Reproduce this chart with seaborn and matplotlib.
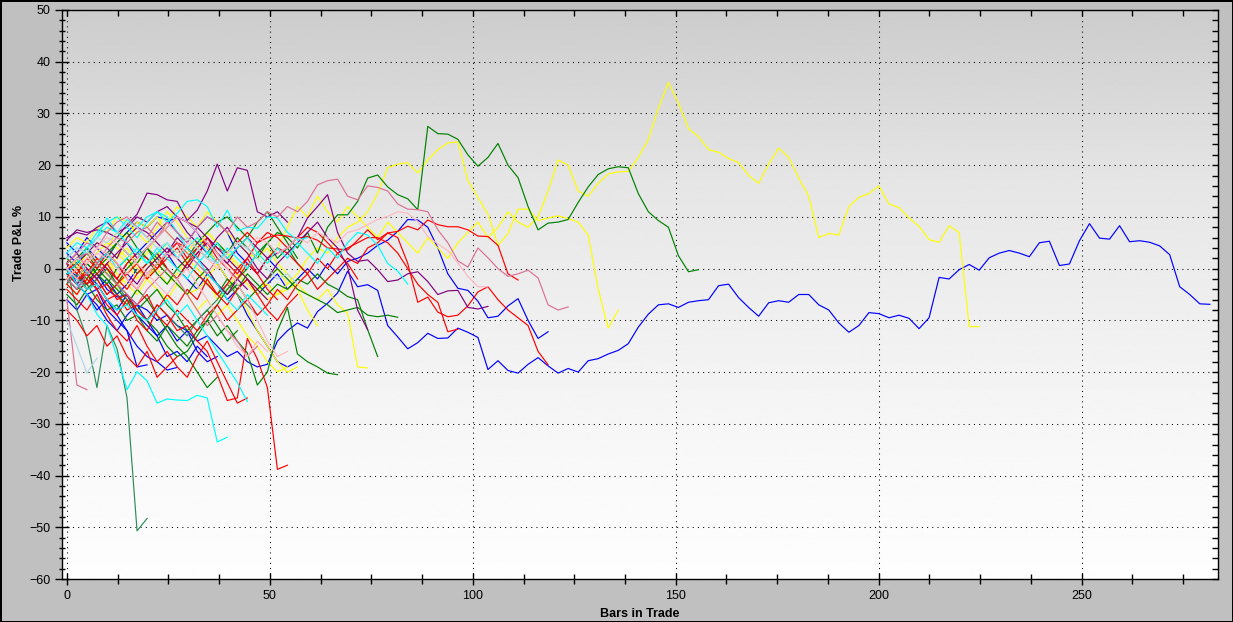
"""Trade P&L % by bars in trade - one line per trade."""
import matplotlib
matplotlib.use("Agg")
import matplotlib.pyplot as plt
from matplotlib.ticker import MultipleLocator
import numpy as np
import pandas as pd
import seaborn as sns

# each trade: P&L % sampled every STEP bars, starting at bar 0
STEP = 2.47

BLUE = [
    # long trade (~283 bars)
    [0, -1.5, -3, -1, -4, -5.5, -5, -7, -8, -10, -9, -11, -12, -14, -13, -15, -17, -16, -18, -19,
     -18.5, -14, -12, -10.5, -11.5, -8.3, -6.7, -4.7, -0.5, -3.5, -3.1, -4.2, -11, -13.2, -15.5, -14.3,
     -12.5, -13.5, -13.4, -11.5, -12.3, -13.3, -19.5, -17.8, -19.7, -20.2, -18.5, -17.2, -18.8, -20.2,
     -19.3, -20, -17.8, -17.4, -16.5, -15.8, -14.5, -11.3, -8.8, -7, -6.8, -7.5, -6.5, -6.2, -6, -3.3,
     -3.0, -5.6, -7.5, -9.2, -6.6, -6.2, -6.5, -5, -5, -7, -8, -10.5, -12.3, -11, -8.5, -8.7, -9.5, -9,
     -9.6, -11.6, -9.5, -1.7, -2, -0.2, 0.8, -0.3, 2.1, 3.0, 3.5, 3.0, 2.3, 5.0, 5.3, 0.6, 0.9, 5.4, 8.7,
     5.9, 5.7, 8.3, 5.2, 5.4, 5.1, 4.4, 2.7, -3.5, -5.0, -6.8, -6.9],
    [0, -3, -1, -4, -2, -5, -3, 0, -2, 1, 3, 0, -2, -4, -1, -3, -6, -4, -2, -5, -3, -1, -4, -2, 0, -2,
     1, -1, 1.4, 2, 3, 4.5, 5.5, 7.2, 9.5, 9.4, 8, 4, -1, -3.8, -4.2, -6.3, -9.5, -9.2, -7.2, -5.8, -10,
     -13.5, -12.2],
    [1, -3, -5, -4, -8, -10, -12, -19, -18.6],
    [-1, -3, -5, -8, -6, -9, -12, -15, -17, -18, -19.6, -19.1],
    [5, 3, 6, 4, 2, 5, 7, 9, 8, 10, 9.5, 7, 5, 8, 10, 9, 7, 3, 1, -1, 2, 0],
    [-2, -4, -1, -3, -6, -8, -5, -9, -11, -13, -17, -16, -18, -15, -17],
    [-6, -8, -5, -7, -10, -12, -9, -7, -10, -13, -11, -14, -12, -16, -18, -17],
    [3, 1, 4, 2, 0, -2, 1, 3, 5, 7, 9, 10, 9, 7, 4, 1, -2, -5, -9, -12, -15, -18, -19, -18],
]

YELLOW = [
    # long trade (~225 bars)
    [0, 1.5, -1, 2, 0.5, 3, 1, -2, 0, 2.5, 5, 3, 6, 4, 7, 5, 2, 4, 6, 3, 1, 4, 8, 12, 10, 14, 11, 9,
     12, 10, 8, 6, 9, 7, 5, 3, 6, 4, 2, 5, 7, 9, 6, 8, 11, 9, 8, 10, 15, 21, 20, 15, 14, 16.5, 18.3,
     18.7, 18.8, 21.5, 25, 31, 36, 32, 27.1, 25.5, 23, 22.5, 21.3, 20.5, 18, 16.5, 20.2, 23.3, 21.5,
     17.5, 14, 6, 6.8, 6.5, 12, 13.8, 14.5, 16, 12.5, 11.8, 9.8, 8.2, 5.6, 5.1, 8.3, 7, -11.2, -11.2],
    [0, 2, 1, 3, 5, 4, 2, 0, -2, 1, -1, -3, -5, -4, -2, -6, -4, -1, -3, -5, -2, 0, -3, -1, 2, 4, 3, 6,
     8, 9, 11, 14.5, 19.5, 20.2, 20.5, 18.5, 21, 23, 24.3, 24.5, 17, 13.8, 10.5, 4.5, 6.8, 11.5, 11.5,
     9.3, 9.8, 10.2, 9.7, 9, 6.5, -4, -11.5, -8],
    [-2, 0, 3, 1, -1, 2, 4, 1, -2, 0, -3, -1, 2, 0, -2, 1, 3, 0, -2, -4, -3, -5, -4, -3, -5, -6, -4,
     -7, -8.6, -19, -19.2],
    [2, 0, 3, 5, 4, 7, 6, 9, 8, 10, 7, 5, 3, 6, 4, 1, -2, -5, -8, -12, -15, -18, -20, -19],
    [-1, 1, -2, 0, 2, -1, -3, -5, -2, -4, -6, -3, -5, -8, -6, -9, -7, -10, -13, -15, -18, -20, -19],
    [4, 6, 5, 8, 7, 10, 9, 7, 5, 8, 11, 9, 6, 4, 7, 5, 3, 1, -2, -4, -6, -5, -3],
    [-3, -5, -2, 0, -2, -4, -1, 1, 3, 6, 9, 12, 10, 8, 11, 9, 7, 5, 3, 2, 4, 1, -1, -4, -8, -11],
]

GREEN = [
    # long trade (~155 bars)
    [0, -2, 1, -1, -3, 0, 2, -1, 1, 3, 0, -2, 1, 4, 2, 5, 3, 6, 4, 2, 5, 7, 6, 4, 7, 3, 8, 10.4, 10.4,
     13, 17.5, 18.1, 15.8, 14.3, 13.5, 11.4, 27.5, 26.1, 26, 25, 22, 19.8, 21.5, 24.2, 20, 17.6, 12, 7.5,
     8.8, 9, 9.5, 12.8, 15.8, 18.2, 19.3, 19.7, 19.5, 14.5, 11, 9.3, 8, 2.5, -0.6, -0.2],
    [-2, -4, -3, -6, -8, -7, -10, -9, -12, -14, -11, -13, -15, -12, -10, -13, -11, -14, -16.3, -22.5,
     -20, -12, -7.5, -16.5, -18, -19, -20.2, -20.5],
    [-1, 1, 3, 0, 2, 5, 3, 1, 4, 2, 0, -2, 1, -1, -3, -5, -2, -4, -1, -3, -5, -3, -4, -2, -3, -1, -3,
     -4, -5.4, -6, -11.8, -17],
    [2, 0, -2, 1, -1, -3, 0, 2, 4, 1, -1, -3, -5, -2, 0, -3, -5, -3, -6, -4, -2, 0, -2, -4, -5, -6, -7,
     -8.5, -8, -7.5, -9, -9.3, -9, -9.4],
    [1, -1, -3, 0, -2, -4, -6, -8, -10, -12, -15, -17, -16, -13, -10, -7, -4, -2, 0, 3, 5, 2, 4, 1, -1],
    [0, -2, 1, -1, -3, -5, -7, -4, -6, -9, -12, -15, -17, -20, -23, -21],
    [-5, -7, -4, -2, 0, -3, -5, -8, -6, -4, -7, -9, -12, -10, -8, -11, -14, -12],
    [0, 2, 4, 1, 3, 5, 7, 4, 2, -1, -3, 0, 2, 5, 7, 9, 10, 8, 6, 9, 11, 8, 5, 2],
]

SEAGREEN = [
    [0, -8, -13.5, -23, -11, -15.5, -25, -50.7, -48.3],
    [-3, -1, -4, -2, -5, -3, -6, -8, -10, -7, -9, -11, -13, -10, -8, -6, -3, -5, -7, -9],
]

RED = [
    [0, -2, -4, -3, -6, -5, -8, -7, -5, -9, -11, -8, -10, -12, -9, -7, -10, -8, -6, -9, -7, -4, -6, -3,
     -1, -4, -2, 0, 2, 1, 4, 5, 6.9, 6, 1, -6.5, -5.5, -8.4, -9.3, -9, -7.2, -4.5, -3.5, -6, -8, -9.5,
     -11, -16, -18.6],
    [0, 1, -1, 2, 0, -2, 1, 3, 2, 0, 3, 5, 4, 2, 6, 4, 3, 5, 7, 5, 6, 6.5, 6.3, 5.9, 6.2, 5.5, 4, 3.8,
     3.6, 5.5, 7.5, 5.6, 6.9, 7.2, 8.2, 7.5, 9.4, 8.5, 8.1, 8.1, 7.5, 6.3, 6.2, 4.5, -1, -2.2],
    [0, -2, -1, -4, -3, -6, -5, -8, -10, -7, -9, -12, -11, -14, -16, -20.5, -25.5, -25, -13.5, -17.5,
     -23, -38.8, -38],
    [-2, 0, -3, -1, 1, -2, -4, -1, 1, 3, 0, -2, 1, 3, 5, 2, 0, -2, 1, -1, 2, 4, 3, 1, -1, 2, 0, 3, 4,
     5, 6, 6, 5, 3, 0, -3, -5, -6.5, -12.2, -11.7],
    [-3, -5, -2, -4, -7, -9, -6, -10, -12, -8, -5, -7, -4, -6, -2, -5, -3, 0, 2, -1, -4, -6],
    [-4, -6, -8, -5, -9, -12, -14, -11, -15, -18, -16, -19, -21, -17, -14, -18, -22, -26, -25],
    [1, -1, 2, 0, 3, 1, -2, -4, -1, 1, 3, 5, 2, 4, 6, 3, 1, -1, 2, 5, 7, 6, 4, 6, 8, 7, 5, 3, 1, -2],
    [-8, -10, -13, -11, -15, -13, -17, -19, -16, -21, -19, -17],
    [-1, -3, 0, -2, -5, -3, -1, 1, -2, 0, 2, 4, 1, -1, -3, -5, -7, -4, -2, -5, -8, -10, -7, -5],
]

PURPLE = [
    [5.5, 7.5, 7, 7.5, 7, 6, 8.5, 10.5, 14.6, 14.3, 13.3, 13, 9.3, 11.3, 15, 20.2, 15, 19.5, 19, 11,
     10, 11, 9],
    [1, 3, 0, -2, 1, 3, 5, 2, 4, 6, 8, 10, 7, 5, 3, 6, 8, 5, 3, 0, -2, 1, 3, 5, 7, 9, 6, 4, 0.4, -8,
     -11.8],
    [0, 2, -1, 1, 3, 1, -1, -3, 0, 2, 4, 2, 0, 3, 5, 3, 1, 4, 6, 4, 2, 3, 4, 6, 9.8, 12, 14.3, 7, 3,
     1.4, 1.7, -0.2, -2.5, -2.2, -1, -0.6, -2.5, -5, -4.3, -4.2, -7.5, -7.8, -7.3],
    [-1, 1, 3, 5, 4, 2, 6, 8, 7, 5, 3, 6, 4, 2, 0, -3, -5, -2, -4],
    [6, 7, 6.5, 8, 9, 7, 8, 10, 9, 11, 12, 10, 9, 8, 6, 4, 2, 0, -2, -4, -6],
]

CYAN = [
    [0, -3, -5, -8.8, -11, -17, -23.4, -19.9, -21.7, -26, -25.2, -25.4, -25.5, -24.5, -25, -33.5, -32.6],
    [2, 4, 3, 6, 9.8, 7, 9.5, 8, 10, 11, 9, 10.7, 13, 13.3, 12, 8, 11.3, 7.3, 8, 7.8, 10, 9.8, 7, 5.5, 6],
    [0, 2, -1, 1, 3, 0, 2, 4, 1, 3, 5, 2, 4, 6, 3, 1, 4, 2, 0, 3, 1, 4, 2, 5, 3, 1, 4, 2, 5, 7, 6.5,
     4.5, 1, -0.5, -3],
    [3, 5, 4, 7, 9, 10, 8, 6, 9, 11, 10, 7, 4, 2, -1, -3, -6, -8, -5, -7, -9],
    [-1, 1, 4, 6, 8, 7, 5, 3, 1, 4, 2, 0, -2, 1, 3, 5, 2, 4, 6, 3],
    [0, -2, -4, -3, -6, -8, -7, -9, -10, -8, -6, -9, -7, -10, -13, -16, -19, -22, -25.7],
]

PINK = [
    [0, 2, 3, 1, 4, 6, 5, 7, 8, 6, 9, 7, 5, 8, 10, 9, 7, 10, 8, 9, 11, 10, 12, 11, 13, 16.2, 17, 17.3,
     14, 13.3, 16, 15.7, 15, 12.5, 11.5, 11.4, 11, 7.5, 5, 1.5, 0.3, 4, 2.1, 0, -1.5, -1, -0.3, -1.8,
     -7, -8, -7.4],
    [-6, -22.5, -23.4],
    [1, 3, 5, 4, 7, 9, 10, 8, 6, 9, 7, 5, 3, 1, -1, 2, 0, -2],
    [-2, -4, -1, 1, -1, -3, -5, -7, -4, -2, 0, -2, -5, -8, -11, -9, -12, -14, -17, -15],
]

LIGHTPINK = [
    [0, -2, 1, 3, 2, 0, -2, -4, -1, 1, 3, 2, 5, 4, 2, 0, 3, 5, 4, 6, 5, 3, 4, 6, 5, 7, 6, 5, 7, 7.5,
     8.5, 9.5, 10.1, 11, 10.7, 9.1, 6.2, 4.8, 3.5, 1.1, -1.5, -3.5, -3.5],
    [0, 2, 1, 4, 6, 5, 3, 1, -1, -3, -5, -2, 0, -3, -6, -9, -12, -15, -17, -14, -16],
    [-2, 0, 2, 4, 3, 1, -1, 2, 4, 6, 8, 10, 9, 7, 5, 3, 0, -3, -6, -10, -14, -17, -16],
]

LIGHTBLUE = [
    [-10, -15, -20.2, -17.3],
    [2, 4, 3, 6, 5, 7, 9, 8, 6, 4, 5, 3, 6, 4, 2, 1, 3, 5, 4, 2, 0, -2, -1, -3],
]

GROUPS = [
    ("#0000FF", BLUE), ("#FFFF00", YELLOW), ("#008000", GREEN), ("#2E8B57", SEAGREEN),
    ("#FF0000", RED), ("#800080", PURPLE), ("#00FFFF", CYAN), ("#DB7093", PINK),
    ("#FFB6C1", LIGHTPINK), ("#ADD8E6", LIGHTBLUE),
]

rows = []
palette = {}
tid = 0
for color, trades in GROUPS:
    for vals in trades:
        palette[tid] = color
        for i, v in enumerate(vals):
            rows.append({"trade": tid, "bar": i * STEP, "pnl": v})
        tid += 1
df = pd.DataFrame(rows)

W, H = 1233, 622
fig = plt.figure(figsize=(W / 100, H / 100), dpi=100)
fig.patch.set_facecolor("#C0C0C0")
fig.patch.set_edgecolor("black")
fig.patch.set_linewidth(2)

ax = fig.add_axes([62 / W, 1 - 579 / H, (1218 - 62) / W, (579 - 10) / H])
XMIN, XMAX, YMIN, YMAX = -1.2, 283.6, -60, 50

# gray-to-white vertical background
rows_px = np.linspace(0, 1, 300)
shade = np.interp(rows_px, [0, 0.3, 0.55, 0.8, 1], [0.80, 0.90, 0.94, 0.975, 0.995])
ax.imshow(shade[:, None], extent=[XMIN, XMAX, YMIN, YMAX], aspect="auto", cmap="gray",
          vmin=0, vmax=1, zorder=0, interpolation="bilinear")

sns.lineplot(data=df, x="bar", y="pnl", hue="trade", palette=palette, legend=False,
             estimator=None, sort=False, linewidth=0.85, ax=ax, zorder=3)

ax.set_xlim(XMIN, XMAX)
ax.set_ylim(YMIN, YMAX)

ax.xaxis.set_major_locator(MultipleLocator(50))
ax.xaxis.set_minor_locator(MultipleLocator(12.5))
ax.yaxis.set_major_locator(MultipleLocator(10))
ax.yaxis.set_minor_locator(MultipleLocator(2))
ax.grid(True, which="major", color="black", linestyle=(0, (1, 4)), linewidth=0.75, zorder=1)
ax.set_axisbelow(False)

font = "Liberation Sans"
ax.tick_params(axis="y", which="major", direction="inout", length=10, width=1, pad=3,
               labelsize=9)
ax.tick_params(axis="y", which="minor", direction="inout", length=5, width=1)
ax.tick_params(axis="x", which="major", direction="inout", length=8, width=1, pad=4, labelsize=9)
ax.tick_params(axis="x", which="minor", direction="inout", length=7, width=1)
for lab in ax.get_xticklabels() + ax.get_yticklabels():
    lab.set_fontfamily(font)

for sp in ax.spines.values():
    sp.set_color("black")
    sp.set_linewidth(1)

# inward ticks on the right and top edges
axr = ax.twinx()
axr.set_ylim(YMIN, YMAX)
axr.yaxis.set_major_locator(MultipleLocator(10))
axr.yaxis.set_minor_locator(MultipleLocator(2))
axr.tick_params(axis="y", which="both", direction="in", length=4, width=1, labelright=False)
axt = ax.twiny()
axt.set_xlim(XMIN, XMAX)
axt.xaxis.set_major_locator(MultipleLocator(50))
axt.xaxis.set_minor_locator(MultipleLocator(12.5))
axt.tick_params(axis="x", which="both", direction="in", length=4, width=1, labeltop=False)
for a in (axr, axt):
    a.patch.set_visible(False)
    for sp in a.spines.values():
        sp.set_visible(False)

ax.set_xlabel("Bars in Trade", fontsize=9, fontweight="bold", fontfamily=font)
ax.set_ylabel("Trade P&L %", fontsize=9, fontweight="bold", fontfamily=font)
ax.xaxis.set_label_coords(0.5, -0.051)
ax.yaxis.set_label_coords(-0.032, 0.59)

fig.savefig("out.png", dpi=100, facecolor=fig.get_facecolor(), edgecolor=fig.get_edgecolor())
